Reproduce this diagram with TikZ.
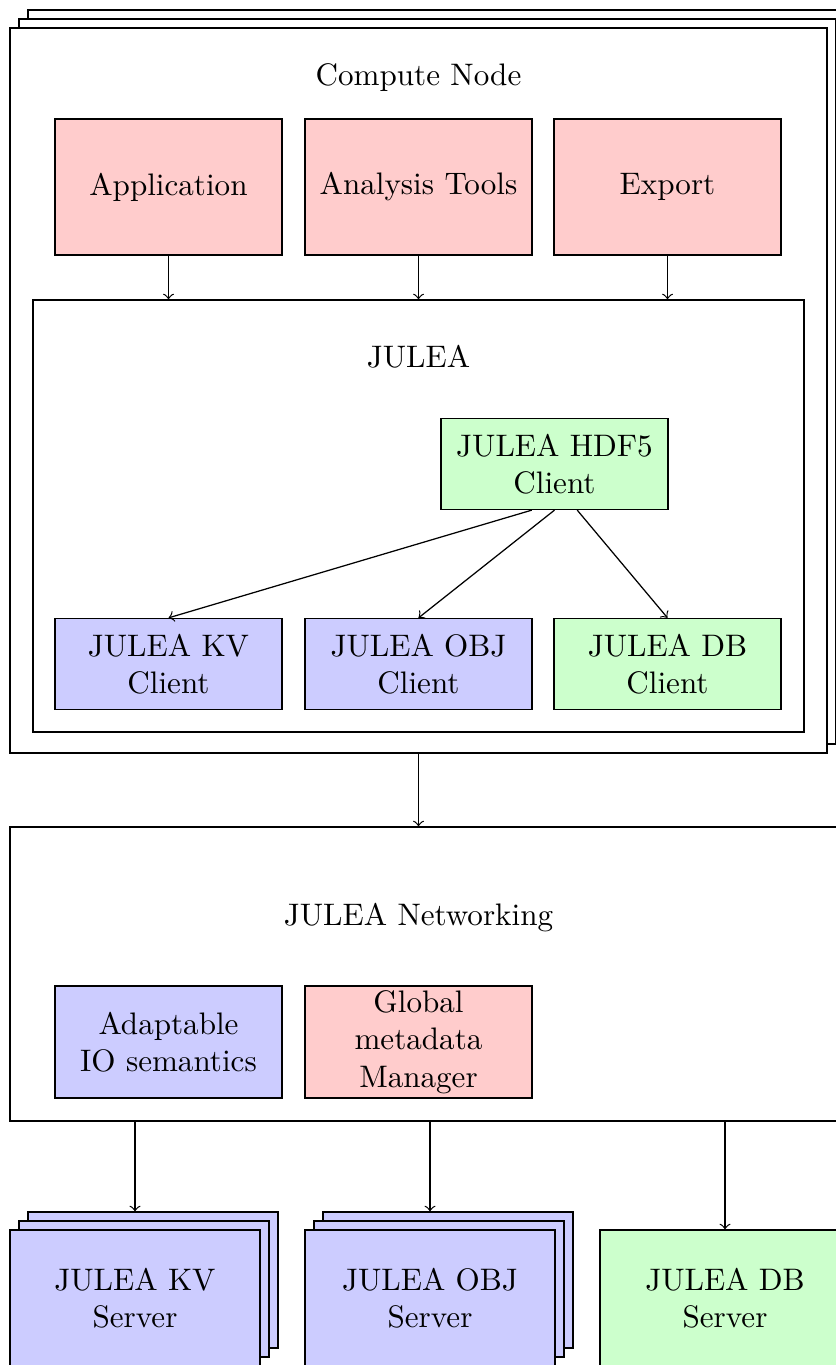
\documentclass[tikz,border=0pt]{standalone}
\usetikzlibrary{calc}
\begin{document}
\begin{tikzpicture}[x=0.3215pt,y=-0.3215pt,
  frame/.style={draw, fill=white, inner sep=0pt},
  box/.style={draw, inner sep=0pt, minimum width=72.98pt, align=center},
  pinkbox/.style={box, fill=red!20},
  bluebox/.style={box, fill=blue!20},
  greenbox/.style={box, fill=green!20},
  topbox/.style={minimum height=43.72pt},
  clientbox/.style={minimum height=29.26pt},
  srvbox/.style={draw, inner sep=0pt, align=center, minimum width=80.38pt, minimum height=43.72pt},
  arr/.style={->}
]
\useasboundingbox (0,0) rectangle (836,1365);
\clip (0,0) rectangle (836,1365);

% Compute node stack
\node[frame, minimum width=262.67pt, minimum height=233.09pt] (computeC) at (436.5,372.5) {};
\node[frame, minimum width=262.67pt, minimum height=233.09pt] (computeB) at (427.5,381.5) {};
\node[frame, minimum width=262.67pt, minimum height=233.09pt] (compute) at (418.5,390.5) {};
\node (computelabel) at (418.5,78) {Compute Node};

\node[pinkbox, topbox] (app) at (168.5,187) {Application};
\node[pinkbox, topbox] (tools) at (418.5,187) {Analysis Tools};
\node[pinkbox, topbox] (export) at (667.5,187) {Export};

% JULEA frame
\node[frame, minimum width=247.88pt, minimum height=138.89pt] (julea) at (418.5,516) {};
\node (julealabel) at (418.5,357) {JULEA};

\draw[arr] (app) -- (app |- julea.north);
\draw[arr] (tools) -- (tools |- julea.north);
\draw[arr] (export) -- (export |- julea.north);

\node[greenbox, clientbox] (hdf5) at (554.5,464) {JULEA HDF5\\Client};
\node[bluebox, clientbox] (kvc) at (168.5,664) {JULEA KV\\Client};
\node[bluebox, clientbox] (objc) at (418.5,664) {JULEA OBJ\\Client};
\node[greenbox, clientbox] (dbc) at (667.5,664) {JULEA DB\\Client};

\draw[arr] ($(hdf5.south)+(-22.7,0)$) -- (kvc.north);
\draw[arr] (hdf5.south) -- (objc.north);
\draw[arr] ($(hdf5.south)+(22.7,0)$) -- (dbc.north);

% Networking
\node[frame, minimum width=270.06pt, minimum height=94.52pt] (net) at (430,974) {};
\node (netlabel) at (418.5,918) {JULEA Networking};
\draw[arr] (compute.south) -- (compute.south |- net.north);

\node[bluebox, minimum height=36.01pt] (adapt) at (168.5,1042) {Adaptable\\IO semantics};
\node[pinkbox, minimum height=36.01pt] (gmm) at (418.5,1042) {Global\\metadata\\Manager};

% Servers
\node[srvbox, fill=blue!20] (kvsC) at (153,1280) {};
\node[srvbox, fill=blue!20] (kvsB) at (144,1289) {};
\node[srvbox, fill=blue!20] (kvs) at (135,1298) {JULEA KV\\Server};

\node[srvbox, fill=blue!20] (objsC) at (448,1280) {};
\node[srvbox, fill=blue!20] (objsB) at (439,1289) {};
\node[srvbox, fill=blue!20] (objs) at (430,1298) {JULEA OBJ\\Server};

\node[srvbox, fill=green!20] (dbs) at (725,1298) {JULEA DB\\Server};

\draw[arr] (kvs.north |- net.south) -- (kvs.north |- kvsC.north);
\draw[arr] (objs.north |- net.south) -- (objs.north |- objsC.north);
\draw[arr] (dbs.north |- net.south) -- (dbs.north);
\end{tikzpicture}
\end{document}
